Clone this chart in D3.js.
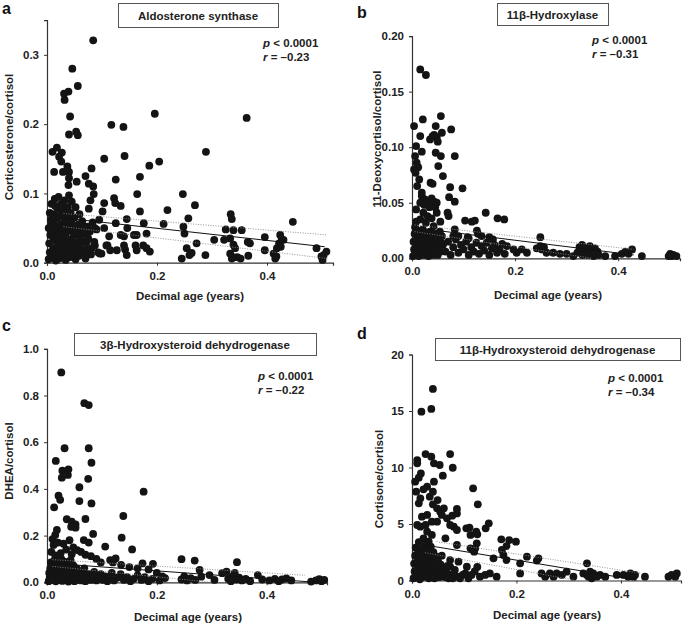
<!DOCTYPE html>
<html><head><meta charset="utf-8">
<script src="https://cdn.jsdelivr.net/npm/d3@7"></script>
<style>body{margin:0;background:#fff}svg{display:block;font-family:"Liberation Sans",Arial,Helvetica,sans-serif}</style>
</head><body><svg id="c" width="685" height="624"></svg>
<script>
// ---------- data ----------
const panelLetters = ["a","b","c","d"];
const panelTitles = ["Aldosterone synthase","11β-Hydroxylase","3β-Hydroxysteroid dehydrogenase","11β-Hydroxysteroid dehydrogenase"];
const yLabels = ["Corticosterone/cortisol","11-Deoxycortisol/cortisol","DHEA/cortisol","Cortisone/cortisol"];
const xLabel = "Decimal age (years)";
const pTexts = ["< 0.0001","< 0.0001","< 0.0001","< 0.0001"];
const rTexts = ["= –0.23","= –0.31","= –0.22","= –0.34"];
const xTicks = [0,0.2,0.4];
const yTicksA = [0,0.1,0.2,0.3];
const yTicksB = [0,0.05,0.1,0.15,0.2];
const yTicksC = [0,0.2,0.4,0.6,0.8,1.0];
const yTicksD = [0,5,10,15,20];

const ptsA = [[0.084,0.321],[0.046,0.280],[0.056,0.255],[0.031,0.244],[0.039,0.247],[0.032,0.235],[0.042,0.211],[0.040,0.185],[0.053,0.189],[0.056,0.184],[0.117,0.199],[0.139,0.196],[0.196,0.215],[0.363,0.209],[0.289,0.160],[0.010,0.160],[0.018,0.166],[0.022,0.153],[0.027,0.159],[0.026,0.146],[0.013,0.131],[0.029,0.131],[0.037,0.139],[0.040,0.131],[0.104,0.150],[0.141,0.154],[0.204,0.146],[0.186,0.140],[0.125,0.120],[0.169,0.124],[0.081,0.136],[0.054,0.117],[0.070,0.125],[0.040,0.122],[0.039,0.112],[0.076,0.114],[0.084,0.110],[0.085,0.099],[0.079,0.090],[0.076,0.078],[0.104,0.086],[0.122,0.093],[0.124,0.086],[0.134,0.082],[0.164,0.099],[0.169,0.074],[0.247,0.099],[0.269,0.083],[0.219,0.076],[0.334,0.070],[0.336,0.063],[0.447,0.059],[0.257,0.064],[0.212,0.056],[0.176,0.057],
[0.145,0.063],[0.125,0.057],[0.181,0.042],[0.163,0.040],[0.175,0.025],[0.181,0.021],[0.163,0.018],[0.140,0.038],[0.142,0.019],[0.145,0.011],[0.127,0.018],[0.108,0.025],[0.099,0.013],[0.087,0.025],[0.248,0.052],[0.250,0.042],[0.254,0.021],[0.245,0.006],[0.259,0.011],[0.263,0.014],[0.272,0.028],[0.288,0.011],[0.304,0.033],[0.322,0.033],[0.325,0.048],[0.339,0.047],[0.333,0.035],[0.339,0.026],[0.342,0.021],[0.333,0.013],[0.339,0.008],[0.346,0.008],[0.336,0.006],[0.352,0.006],[0.354,0.047],[0.366,0.010],[0.365,0.030],[0.369,0.028],[0.396,0.037],[0.396,0.018],[0.412,0.013],[0.418,0.021],[0.417,0.009],[0.422,0.028],[0.424,0.040],[0.427,0.033],[0.425,0.023],[0.430,0.033],[0.415,0.006],[0.490,0.021],[0.499,0.009],[0.501,0.004],[0.508,0.016],[0.503,0.011],
[0.074,0.052],[0.087,0.050],[0.072,0.030],[0.081,0.021],[0.073,0.013],[0.096,0.013],[0.115,0.018],[0.187,0.016],[0.101,0.074],[0.104,0.050],[0.113,0.038],[0.110,0.025],[0.134,0.040],[0.140,0.025],[0.146,0.050],[0.158,0.040],[0.161,0.025],
[0.003,0.005],[0.005,0.015],[0.004,0.028],[0.006,0.040],[0.003,0.050],[0.007,0.062],[0.005,0.072],[0.008,0.085],[0.010,0.008],[0.011,0.020],[0.012,0.033],[0.010,0.045],[0.012,0.058],[0.013,0.070],[0.014,0.092],[0.016,0.003],[0.017,0.012],[0.018,0.025],[0.016,0.038],[0.019,0.050],[0.018,0.064],[0.020,0.078],[0.021,0.095],[0.022,0.006],[0.023,0.018],[0.024,0.030],[0.022,0.044],[0.025,0.055],[0.024,0.068],[0.026,0.085],[0.028,0.010],[0.029,0.022],[0.030,0.036],[0.028,0.048],[0.031,0.060],[0.030,0.074],[0.032,0.090],[0.034,0.004],[0.035,0.015],[0.036,0.028],[0.034,0.042],[0.037,0.053],[0.036,0.066],[0.038,0.080],[0.040,0.097],[0.041,0.008],[0.042,0.020],[0.043,0.034],[0.041,0.046],[0.044,0.058],[0.043,0.072],[0.045,0.088],[0.047,0.012],[0.048,0.026],[0.049,0.040],[0.047,0.050],[0.050,0.065],[0.052,0.005],[0.053,0.018],[0.055,0.030],[0.054,0.045],[0.057,0.055],[0.058,0.010],[0.060,0.024],[0.061,0.038],[0.063,0.048],[0.065,0.015],[0.066,0.030],[0.068,0.042],[0.070,0.006],[0.072,0.020],[0.075,0.035],[0.078,0.045],[0.080,0.012],[0.083,0.058],[0.086,0.030],[0.090,0.048],[0.093,0.015],[0.095,0.062],
[0.008,0.055],[0.015,0.082],[0.027,0.068],[0.033,0.078],[0.046,0.064],[0.059,0.070],[0.064,0.060],[0.069,0.052],[0.052,0.080],[0.020,0.035],[0.039,0.060],[0.062,0.033]];

const ptsB = [[0.016,0.170],[0.027,0.165],[0.004,0.119],[0.021,0.125],[0.016,0.110],[0.056,0.128],[0.046,0.119],[0.040,0.110],[0.043,0.111],[0.048,0.109],[0.050,0.105],[0.058,0.113],[0.076,0.116],[0.035,0.107],[0.008,0.101],[0.019,0.096],[0.046,0.095],[0.056,0.092],[0.083,0.092],[0.051,0.083],[0.006,0.092],[0.009,0.086],[0.012,0.082],[0.004,0.080],[0.007,0.077],[0.014,0.071],[0.010,0.065],[0.060,0.074],[0.036,0.068],[0.040,0.067],[0.074,0.064],[0.098,0.063],[0.083,0.051],[0.072,0.055],
[0.019,0.059],[0.019,0.056],[0.025,0.053],[0.030,0.050],[0.038,0.054],[0.043,0.051],[0.048,0.050],[0.016,0.050],[0.024,0.048],[0.034,0.046],[0.045,0.046],[0.008,0.044],[0.022,0.041],[0.030,0.038],[0.038,0.036],[0.048,0.041],[0.016,0.035],[0.027,0.032],[0.042,0.029],[0.055,0.033],[0.008,0.033],[0.069,0.041],[0.071,0.038],[0.143,0.041],[0.103,0.034],[0.116,0.033],[0.122,0.034],[0.166,0.036],[0.179,0.035],[0.126,0.025],[0.108,0.019],[0.135,0.020],[0.157,0.017],[0.249,0.019],[0.083,0.026],[0.080,0.020],
[0.184,0.011],[0.197,0.008],[0.203,0.005],[0.213,0.008],[0.223,0.005],[0.242,0.009],[0.249,0.011],[0.252,0.008],[0.256,0.010],[0.261,0.005],[0.274,0.005],[0.287,0.004],[0.300,0.004],[0.313,0.002],[0.321,0.005],[0.325,0.010],[0.326,0.007],[0.331,0.003],[0.336,0.009],[0.339,0.006],[0.342,0.003],[0.347,0.008],[0.352,0.002],[0.362,0.003],[0.375,0.002],[0.394,0.002],[0.407,0.004],[0.414,0.006],[0.420,0.004],[0.427,0.008],[0.446,0.002],[0.501,0.004],[0.507,0.003],[0.504,0.002],[0.513,0.002],[0.498,0.002],[0.330,0.012],[0.345,0.011],[0.355,0.009],[0.360,0.006],
[0.060,0.012],[0.065,0.006],[0.070,0.015],[0.075,0.003],[0.080,0.010],[0.085,0.017],[0.090,0.005],[0.095,0.012],[0.100,0.008],[0.105,0.015],[0.110,0.003],[0.115,0.010],[0.120,0.006],[0.125,0.014],[0.130,0.004],[0.135,0.011],[0.140,0.007],[0.145,0.014],[0.150,0.003],[0.155,0.009],[0.160,0.012],[0.165,0.005],[0.170,0.008],[0.175,0.013],[0.180,0.004],[0.090,0.020],[0.110,0.018],[0.150,0.019],[0.128,0.022],
[0.002,0.002],[0.004,0.008],[0.003,0.015],[0.005,0.022],[0.006,0.028],[0.008,0.004],[0.009,0.011],[0.010,0.018],[0.011,0.025],[0.013,0.002],[0.014,0.008],[0.015,0.014],[0.016,0.021],[0.018,0.005],[0.019,0.012],[0.020,0.019],[0.021,0.026],[0.023,0.003],[0.024,0.010],[0.025,0.016],[0.026,0.023],[0.028,0.006],[0.029,0.013],[0.030,0.020],[0.032,0.002],[0.033,0.009],[0.034,0.016],[0.035,0.024],[0.037,0.005],[0.038,0.012],[0.039,0.019],[0.041,0.003],[0.042,0.009],[0.043,0.015],[0.044,0.022],[0.046,0.006],[0.047,0.013],[0.048,0.019],[0.050,0.003],[0.051,0.010],[0.052,0.017],[0.054,0.024],[0.055,0.006],[0.057,0.014],[0.058,0.020]];

const ptsC = [[0.026,0.899],[0.068,0.767],[0.076,0.759],[0.032,0.574],[0.076,0.574],[0.016,0.520],[0.081,0.512],[0.028,0.478],[0.039,0.484],[0.038,0.460],[0.027,0.448],[0.075,0.443],[0.059,0.407],[0.021,0.371],[0.024,0.353],[0.013,0.321],[0.059,0.348],[0.081,0.338],[0.036,0.270],[0.045,0.260],[0.052,0.248],[0.044,0.238],[0.052,0.234],[0.070,0.271],[0.018,0.224],[0.015,0.203],[0.084,0.207],[0.067,0.181],[0.076,0.170],[0.136,0.191],[0.106,0.153],[0.155,0.141],[0.176,0.388],[0.139,0.284],[0.245,0.099],[0.269,0.093],[0.346,0.086],[0.193,0.079],[0.174,0.081],
[0.010,0.185],[0.012,0.160],[0.020,0.170],[0.030,0.165],[0.041,0.180],[0.048,0.150],[0.055,0.138],[0.062,0.130],[0.008,0.130],[0.015,0.115],[0.025,0.125],[0.035,0.140],[0.045,0.120],[0.070,0.118],[0.080,0.112],[0.090,0.100],[0.098,0.085],[0.115,0.095],[0.125,0.102],[0.120,0.085],[0.135,0.075],[0.150,0.065],[0.165,0.060],[0.185,0.055],[0.200,0.040],[0.210,0.025],
[0.003,0.005],[0.005,0.020],[0.004,0.040],[0.006,0.060],[0.007,0.085],[0.010,0.010],[0.011,0.030],[0.012,0.050],[0.013,0.072],[0.014,0.095],[0.016,0.004],[0.017,0.022],[0.018,0.042],[0.019,0.062],[0.020,0.082],[0.022,0.012],[0.023,0.032],[0.024,0.052],[0.025,0.070],[0.026,0.100],[0.028,0.006],[0.029,0.025],[0.030,0.045],[0.031,0.065],[0.032,0.088],[0.034,0.015],[0.035,0.035],[0.036,0.055],[0.037,0.078],[0.039,0.003],[0.040,0.022],[0.041,0.042],[0.042,0.062],[0.043,0.095],[0.045,0.010],[0.046,0.030],[0.047,0.050],[0.048,0.072],[0.050,0.005],[0.051,0.020],[0.052,0.040],[0.054,0.060],[0.056,0.012],[0.058,0.030],[0.060,0.048],[0.062,0.008],[0.064,0.022],[0.066,0.040],[0.068,0.060],[0.070,0.005],[0.073,0.018],[0.076,0.035],[0.080,0.010],[0.083,0.025],[0.086,0.045],[0.090,0.008],[0.094,0.020],[0.098,0.035],[0.102,0.010],[0.106,0.025],[0.110,0.005],[0.114,0.018],[0.118,0.040],[0.122,0.008],[0.128,0.020],[0.134,0.035],[0.140,0.010],[0.146,0.022],[0.152,0.005],[0.158,0.015],[0.165,0.030],[0.172,0.010],[0.178,0.022],[0.185,0.005],[0.192,0.015],[0.205,0.008],[0.215,0.018],
[0.245,0.012],[0.250,0.025],[0.255,0.008],[0.262,0.018],[0.270,0.010],[0.278,0.053],[0.281,0.024],[0.296,0.031],[0.305,0.010],[0.319,0.039],[0.327,0.046],[0.330,0.015],[0.335,0.005],[0.338,0.025],[0.342,0.040],[0.345,0.012],[0.350,0.020],[0.355,0.008],[0.362,0.015],[0.370,0.005],[0.384,0.031],[0.392,0.012],[0.405,0.008],[0.415,0.015],[0.422,0.005],[0.428,0.012],[0.436,0.017],[0.445,0.008],[0.481,0.003],[0.490,0.008],[0.496,0.013],[0.500,0.005],[0.505,0.010]];

const ptsD = [[0.040,16.95],[0.018,14.94],[0.037,15.18],[0.026,11.19],[0.037,10.96],[0.073,11.19],[0.010,10.66],[0.010,10.37],[0.042,10.37],[0.053,10.22],[0.078,9.98],[0.059,9.28],[0.017,9.48],[0.013,9.10],[0.006,8.75],[0.008,7.86],[0.029,8.30],[0.022,8.07],[0.042,8.75],[0.040,7.86],[0.117,8.16],[0.016,7.27],[0.013,6.83],[0.034,7.42],[0.049,7.12],[0.048,6.39],[0.126,6.74],
[0.040,6.74],[0.054,6.09],[0.061,6.39],[0.057,5.80],[0.067,5.50],[0.086,6.33],[0.086,5.94],[0.077,5.74],[0.019,5.65],[0.029,5.80],[0.026,4.91],[0.016,4.76],[0.010,4.91],[0.038,5.21],[0.048,5.21],[0.080,4.76],[0.073,4.91],[0.086,4.47],[0.104,4.62],[0.112,4.03],[0.125,4.09],[0.141,4.62],[0.147,5.06],[0.029,4.32],[0.038,4.03],[0.032,3.44],[0.022,3.73],[0.064,3.73],[0.086,3.14],[0.112,2.85],[0.124,3.29],[0.121,2.85],
[0.123,4.32],[0.110,4.68],[0.119,2.55],[0.156,1.96],[0.171,3.64],[0.186,3.58],[0.199,3.44],[0.181,3.05],[0.172,2.70],[0.175,2.26],[0.181,1.81],[0.207,1.52],[0.207,0.63],[0.220,2.11],[0.239,1.76],[0.242,1.96],[0.248,0.63],[0.255,0.34],[0.264,0.63],[0.271,0.34],[0.277,0.63],[0.287,0.49],[0.296,0.78],[0.309,0.34],[0.335,1.52],[0.328,0.63],[0.335,0.49],[0.341,0.78],[0.347,0.63],[0.338,0.34],[0.344,0.19],[0.354,0.34],[0.360,0.49],[0.370,0.34],[0.392,0.49],[0.405,0.49],[0.414,0.34],[0.418,0.63],[0.424,0.34],[0.427,0.49],[0.446,0.34],[0.491,0.34],[0.497,0.49],[0.504,0.34],[0.507,0.63],
[0.028,1.67],[0.047,2.11],[0.073,1.81],[0.089,1.67],[0.105,1.22],[0.102,0.63],[0.114,0.49],[0.130,0.34],[0.140,0.49],[0.149,0.63],[0.162,0.34],[0.073,1.22],[0.082,0.93],[0.086,0.34],[0.060,0.63],[0.054,0.34],
[0.003,0.2],[0.005,0.8],[0.004,1.5],[0.006,2.2],[0.007,2.9],[0.009,0.4],[0.010,1.1],[0.011,1.8],[0.012,2.6],[0.013,3.4],[0.015,0.1],[0.016,0.7],[0.017,1.4],[0.018,2.1],[0.019,2.8],[0.021,0.3],[0.022,1.0],[0.023,1.7],[0.024,2.4],[0.025,3.1],[0.027,0.5],[0.028,1.2],[0.029,1.9],[0.030,2.6],[0.032,0.2],[0.033,0.9],[0.034,1.6],[0.035,2.3],[0.036,3.0],[0.038,0.4],[0.039,1.1],[0.040,1.8],[0.041,2.5],[0.043,0.2],[0.044,0.8],[0.045,1.4],[0.046,2.0],[0.048,0.5],[0.049,1.1],[0.050,1.7],[0.052,0.3],[0.053,0.9],[0.055,1.4],[0.057,2.2],[0.059,0.5],[0.061,1.0],[0.063,0.3],[0.066,0.7],[0.068,1.3],[0.070,0.2],[0.074,0.5],[0.078,0.2],[0.082,0.4],[0.092,0.2],[0.097,0.5],[0.108,0.2],[0.120,0.8],[0.125,1.2]];

// regression line and 95% band endpoints
const fitA = [[0.03,0.0645],[0.505,0.023]], upA = [[0.03,0.071],[0.51,0.040]], loA = [[0.03,0.052],[0.51,0.006]];
const fitB = [[0.005,0.0275],[0.43,0.003]], upB = [[0.005,0.030],[0.43,0.008]], loB = [[0.005,0.024],[0.35,0.0]];
const fitC = [[0.01,0.081],[0.49,0.0]], upC = [[0.01,0.097],[0.47,0.030]], loC = [[0.01,0.068],[0.30,0.0]];
const fitD = [[0.025,3.14],[0.43,0.04]], upD = [[0.047,3.44],[0.44,0.63]], loD = [[0.025,2.46],[0.31,0.04]];

// ---------- layout ----------
const panels = [
 {pts:ptsA, fit:fitA, up:upA, lo:loA, yTicks:yTicksA, yMax:0.35, fmt:".1f",
  x0:47, x1:333, xMax:0.52, y0:262.7, y1:20.2, letter:[2,14], box:[118,3,160,24], stat:[263,47], yl:[9,137], xl:[190,300]},
 {pts:ptsB, fit:fitB, up:upB, lo:loB, yTicks:yTicksB, yMax:0.2, fmt:".2f",
  x0:412, x1:680, xMax:0.52, y0:258.3, y1:36.1, letter:[357,18], box:[497,3,111,22], stat:[592,44], yl:[377,139], xl:[548,299]},
 {pts:ptsC, fit:fitC, up:upC, lo:loC, yTicks:yTicksC, yMax:1.0, fmt:".1f",
  x0:47, x1:327, xMax:0.51, y0:582.3, y1:348.8, letter:[2,331], box:[74,333,242,22], stat:[258,380], yl:[9,461], xl:[188,621]},
 {pts:ptsD, fit:fitD, up:upD, lo:loD, yTicks:yTicksD, yMax:20, fmt:"d",
  x0:412, x1:681, xMax:0.515, y0:580.5, y1:354.5, letter:[357,339], box:[435,338,245,22], stat:[608,382], yl:[379,479], xl:[547,619]}
];

const svg = d3.select("#c");
panels.forEach((p,i)=>{
  const x = d3.scaleLinear().domain([0,p.xMax]).range([p.x0,p.x1]);
  const y = d3.scaleLinear().domain([0,p.yMax]).range([p.y0,p.y1]);
  const g = svg.append("g");

  // axes
  const xa = g.append("g").attr("transform",`translate(0,${p.y0})`)
    .call(d3.axisBottom(x).tickValues(xTicks).tickFormat(d3.format(".1f")).tickSize(3).tickPadding(6));
  const ya = g.append("g").attr("transform",`translate(${p.x0},0)`)
    .call(d3.axisLeft(y).tickValues(p.yTicks).tickFormat(d3.format(p.fmt)).tickSize(3).tickPadding(5));
  [xa,ya].forEach(a=>{
    a.select(".domain").attr("stroke","#333").attr("stroke-width",1.2);
    a.selectAll(".tick line").attr("stroke","#333");
    a.selectAll("text").attr("font-size",11.5).attr("font-weight","bold").attr("fill","#222")
      .attr("font-family","'Liberation Sans',Arial,sans-serif");
  });

  // points
  g.append("g").selectAll("circle").data(p.pts).join("circle")
    .attr("cx",d=>x(d[0])).attr("cy",d=>y(d[1])).attr("r",3.9).attr("fill","#141414");

  // regression and confidence band
  const line = d3.line().x(d=>x(d[0])).y(d=>y(d[1]));
  g.append("path").attr("d",line(p.up)).attr("fill","none").attr("stroke","#888").attr("stroke-width",0.9).attr("stroke-dasharray","1,1.5");
  g.append("path").attr("d",line(p.lo)).attr("fill","none").attr("stroke","#888").attr("stroke-width",0.9).attr("stroke-dasharray","1,1.5");
  g.append("path").attr("d",line(p.fit)).attr("fill","none").attr("stroke","#111").attr("stroke-width",1);

  // title box
  g.append("rect").attr("x",p.box[0]+0.5).attr("y",p.box[1]+0.5).attr("width",p.box[2]).attr("height",p.box[3])
    .attr("fill","#fff").attr("stroke","#555").attr("stroke-width",1);
  g.append("text").attr("x",p.box[0]+p.box[2]/2).attr("y",p.box[1]+p.box[3]/2+4.5)
    .attr("text-anchor","middle").attr("font-size",11.5).attr("font-weight","bold").attr("fill","#222").text(panelTitles[i]);

  // letter
  g.append("text").attr("x",p.letter[0]).attr("y",p.letter[1]).attr("font-size",16).attr("font-weight","bold").attr("fill","#111").text(panelLetters[i]);

  // stats
  const st = g.append("text").attr("x",p.stat[0]).attr("y",p.stat[1]).attr("font-size",11.5).attr("font-weight","bold").attr("fill","#222");
  st.append("tspan").attr("font-style","italic").text("p");
  st.append("tspan").text(" "+pTexts[i]);
  const rt = g.append("text").attr("x",p.stat[0]).attr("y",p.stat[1]+14).attr("font-size",11.5).attr("font-weight","bold").attr("fill","#222");
  rt.append("tspan").attr("font-style","italic").text("r");
  rt.append("tspan").text(" "+rTexts[i]);

  // axis titles
  g.append("text").attr("transform",`translate(${p.yl[0]+4},${p.yl[1]}) rotate(-90)`)
    .attr("text-anchor","middle").attr("font-size",11.5).attr("font-weight","bold").attr("fill","#222").text(yLabels[i]);
  g.append("text").attr("x",p.xl[0]).attr("y",p.xl[1]).attr("text-anchor","middle")
    .attr("font-size",11.5).attr("font-weight","bold").attr("fill","#222").text(xLabel);
});
</script></body></html>
